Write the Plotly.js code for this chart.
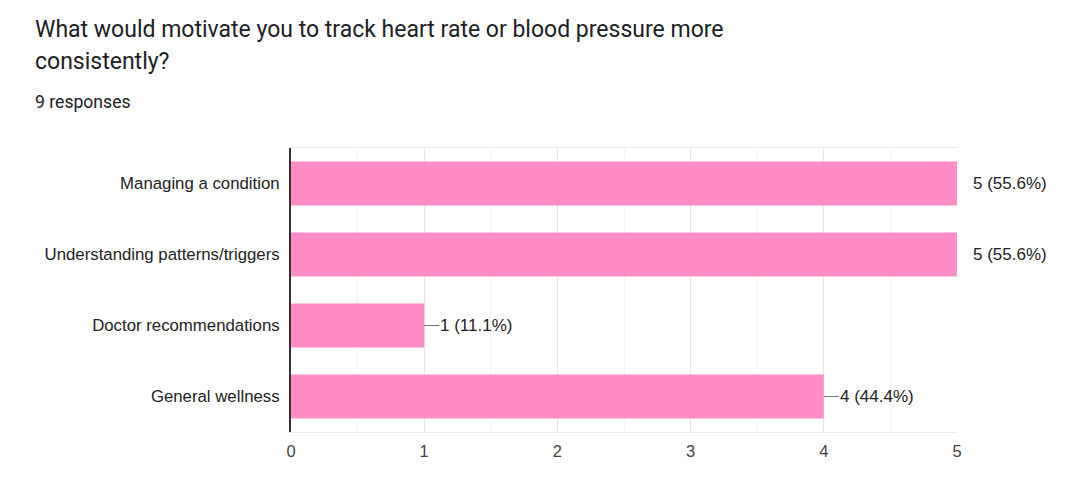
<!DOCTYPE html>
<html>
<head>
<meta charset="utf-8">
<script src="https://cdn.plot.ly/plotly-3.0.1.min.js"></script>
<style>html,body{margin:0;padding:0;background:#fff;}#chart{width:1084px;height:477px;}</style>
</head>
<body>
<div id="chart"></div>
<script>
const titleLines = ["What would motivate you to track heart rate or blood pressure more", "consistently?"];
const subtitle = "9 responses";
const categories = ["Managing a condition", "Understanding patterns/triggers", "Doctor recommendations", "General wellness"];
const counts = [5, 5, 1, 4];
const percents = ["55.6%", "55.6%", "11.1%", "44.4%"];
const xTicks = [0, 1, 2, 3, 4, 5];

const maxVal = Math.max(...counts);
const titleFont = "Roboto, Arial, sans-serif";
const font = "'Liberation Sans', Arial, sans-serif";

const W = 1084, H = 477;
const M = {l: 291, r: 127, t: 148, b: 45};
const pw = W - M.l - M.r, ph = H - M.t - M.b;
const px = v => (v - M.l) / pw;
const py = v => (H - M.b - v) / ph;

const trace = {
  type: "bar",
  orientation: "h",
  y: categories,
  x: counts,
  marker: {color: "#ff8cc6", line: {width: 0}},
  width: 0.62,
  hoverinfo: "none"
};

const annotations = [];
annotations.push({xref: "paper", yref: "paper", x: px(33), y: py(29), xanchor: "left", yanchor: "middle",
  text: titleLines[0], showarrow: false, font: {family: titleFont, size: 23, color: "#202124"}});
annotations.push({xref: "paper", yref: "paper", x: px(33), y: py(62), xanchor: "left", yanchor: "middle",
  text: titleLines[1], showarrow: false, font: {family: titleFont, size: 23, color: "#202124"}});
annotations.push({xref: "paper", yref: "paper", x: px(33), y: py(102), xanchor: "left", yanchor: "middle",
  text: subtitle, showarrow: false, font: {family: titleFont, size: 17.6, color: "#202124"}});

categories.forEach((c, i) => {
  annotations.push({
    xref: "x", yref: "y", x: counts[i], y: c,
    text: counts[i] + " (" + percents[i] + ")",
    showarrow: true, arrowhead: 0, arrowwidth: 1,
    arrowcolor: counts[i] === maxVal ? "rgba(0,0,0,0)" : "#777",
    ax: 15, ay: 0, xanchor: "left", yanchor: "middle",
    borderpad: 0, standoff: 0,
    font: {family: font, size: 17, color: "#222"}
  });
});

const layout = {
  width: W, height: H,
  margin: {l: M.l, r: M.r, t: M.t, b: M.b, pad: 0},
  paper_bgcolor: "#fff", plot_bgcolor: "#fff",
  showlegend: false,
  font: {family: font, size: 17, color: "#444"},
  xaxis: {
    range: [0, 5], tickvals: xTicks, ticktext: xTicks.map(String),
    showgrid: true, gridcolor: "#e6e6e6", gridwidth: 1,
    minor: {dtick: 0.5, showgrid: true, gridcolor: "#f3f3f3", gridwidth: 1},
    zeroline: false, showline: true, linecolor: "#ebebeb", linewidth: 1, mirror: true,
    ticks: "", ticklen: 0, ticklabelstandoff: 4,
    tickfont: {family: font, size: 16.5, color: "#444"},
    fixedrange: true
  },
  yaxis: {
    autorange: "reversed", type: "category",
    showgrid: false, zeroline: false,
    showline: true, linecolor: "#333", linewidth: 2,
    ticks: "", ticklen: 0, ticklabelstandoff: 6,
    tickfont: {family: font, size: 16.8, color: "#222"},
    fixedrange: true
  },
  annotations: annotations
};

Plotly.newPlot("chart", [trace], layout, {displayModeBar: false, staticPlot: true});
</script>
</body>
</html>
